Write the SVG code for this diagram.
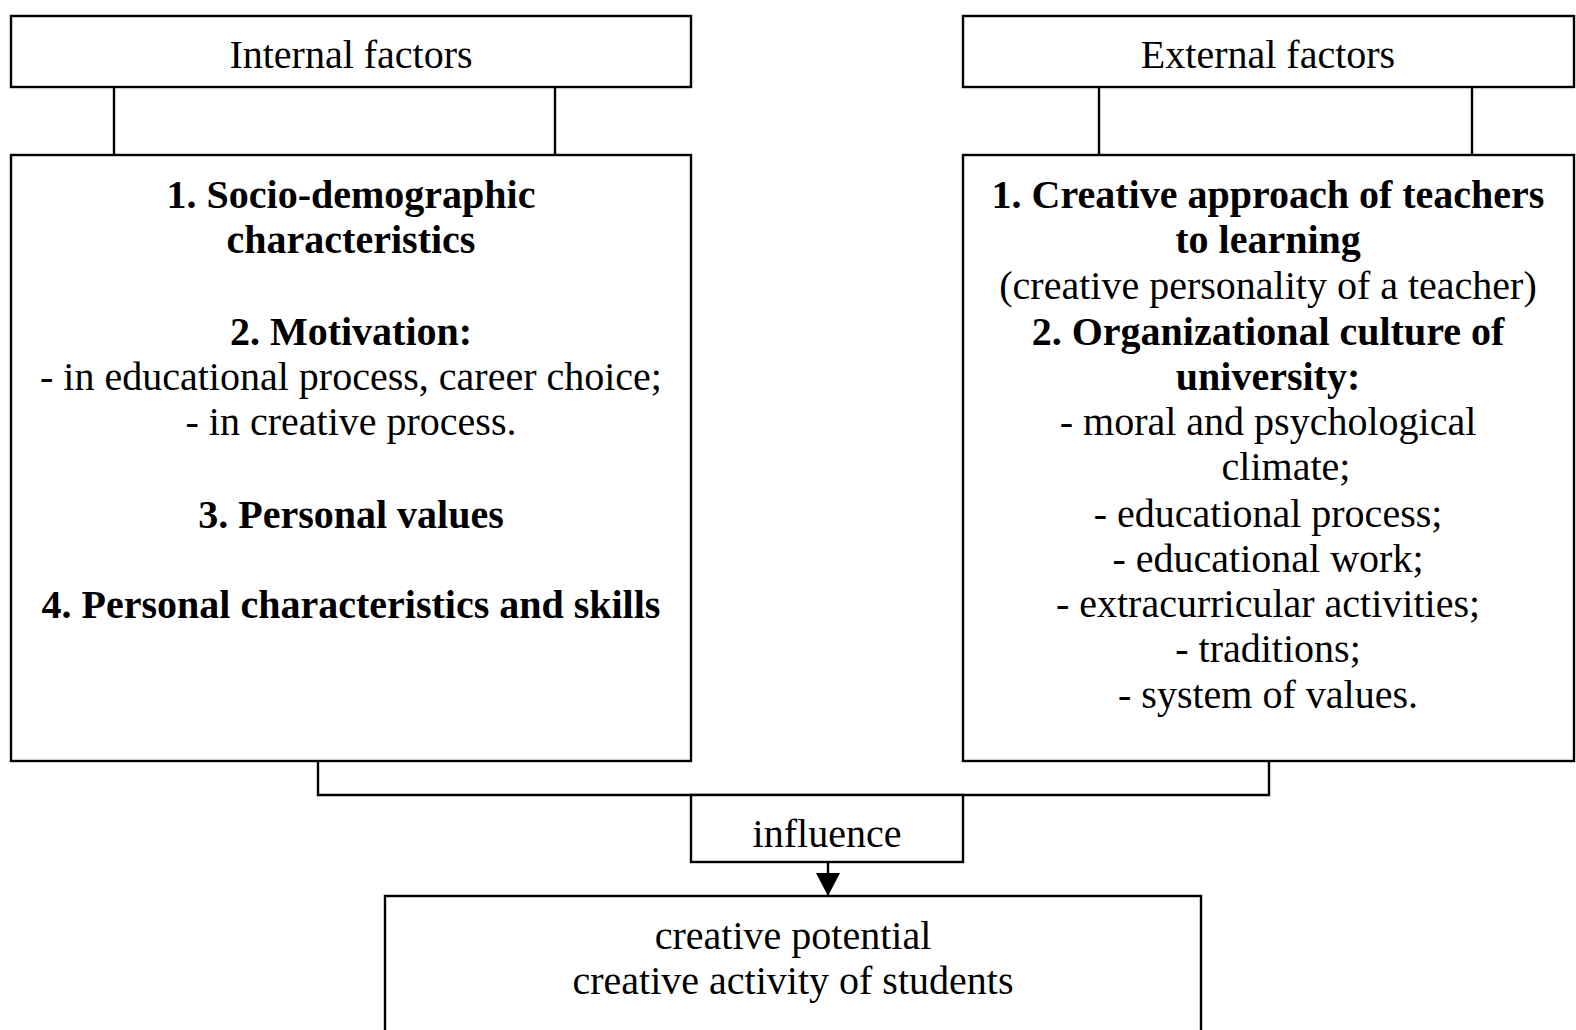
<svg xmlns="http://www.w3.org/2000/svg" width="1576" height="1030" viewBox="0 0 1576 1030">
<style>
.box{fill:#fff;stroke:#000;stroke-width:2.4}
.ln{fill:none;stroke:#000;stroke-width:2.4}
text{font-family:"Liberation Serif","Times New Roman",serif;font-size:40px;fill:#000;text-anchor:middle}
.b{font-weight:bold}
</style>
<defs>
<marker id="arr" markerWidth="23" markerHeight="24" refX="23" refY="12" orient="auto" markerUnits="userSpaceOnUse" viewBox="0 0 23 24">
<path d="M0,0 L23,12 L0,24 Z" fill="#000"/>
</marker>
</defs>
<rect width="1576" height="1030" fill="#fff"/>
<g id="connectors">
<line class="ln" x1="114" y1="87" x2="114" y2="155"/>
<line class="ln" x1="555" y1="87" x2="555" y2="155"/>
<line class="ln" x1="1099" y1="87" x2="1099" y2="155"/>
<line class="ln" x1="1472" y1="87" x2="1472" y2="155"/>
<polyline class="ln" points="318,761 318,795 1269,795 1269,761"/>
<line class="ln" x1="828" y1="862" x2="828" y2="896" marker-end="url(#arr)"/>
</g>
<g id="internal-factors">
<rect class="box" x="11" y="16" width="680" height="71"/>
<text x="351" y="68">Internal factors</text>
</g>
<g id="external-factors">
<rect class="box" x="963" y="16" width="611" height="71"/>
<text x="1268" y="68">External factors</text>
</g>
<g id="internal-content">
<rect class="box" x="11" y="155" width="680" height="606"/>
<text class="b" x="351" y="208">1. Socio-demographic</text>
<text class="b" x="351" y="253">characteristics</text>
<text class="b" x="351" y="345">2. Motivation:</text>
<text x="351" y="390">- in educational process, career choice;</text>
<text x="351" y="435">- in creative process.</text>
<text class="b" x="351" y="528">3. Personal values</text>
<text class="b" x="351" y="618">4. Personal characteristics and skills</text>
</g>
<g id="external-content">
<rect class="box" x="963" y="155" width="611" height="606"/>
<text class="b" x="1268" y="208">1. Creative approach of teachers</text>
<text class="b" x="1268" y="253">to learning</text>
<text x="1268" y="299">(creative personality of a teacher)</text>
<text class="b" x="1268" y="345">2. Organizational culture of</text>
<text class="b" x="1268" y="390">university:</text>
<text x="1268" y="435">- moral and psychological</text>
<text x="1286" y="480">climate;</text>
<text x="1268" y="527">- educational process;</text>
<text x="1268" y="572">- educational work;</text>
<text x="1268" y="617">- extracurricular activities;</text>
<text x="1268" y="662">- traditions;</text>
<text x="1268" y="708">- system of values.</text>
</g>
<g id="influence">
<rect class="box" x="691" y="795" width="272" height="67"/>
<text x="827" y="847">influence</text>
</g>
<g id="result">
<rect class="box" x="385" y="896" width="816" height="140"/>
<text x="793" y="949">creative potential</text>
<text x="793" y="994">creative activity of students</text>
</g>
</svg>
